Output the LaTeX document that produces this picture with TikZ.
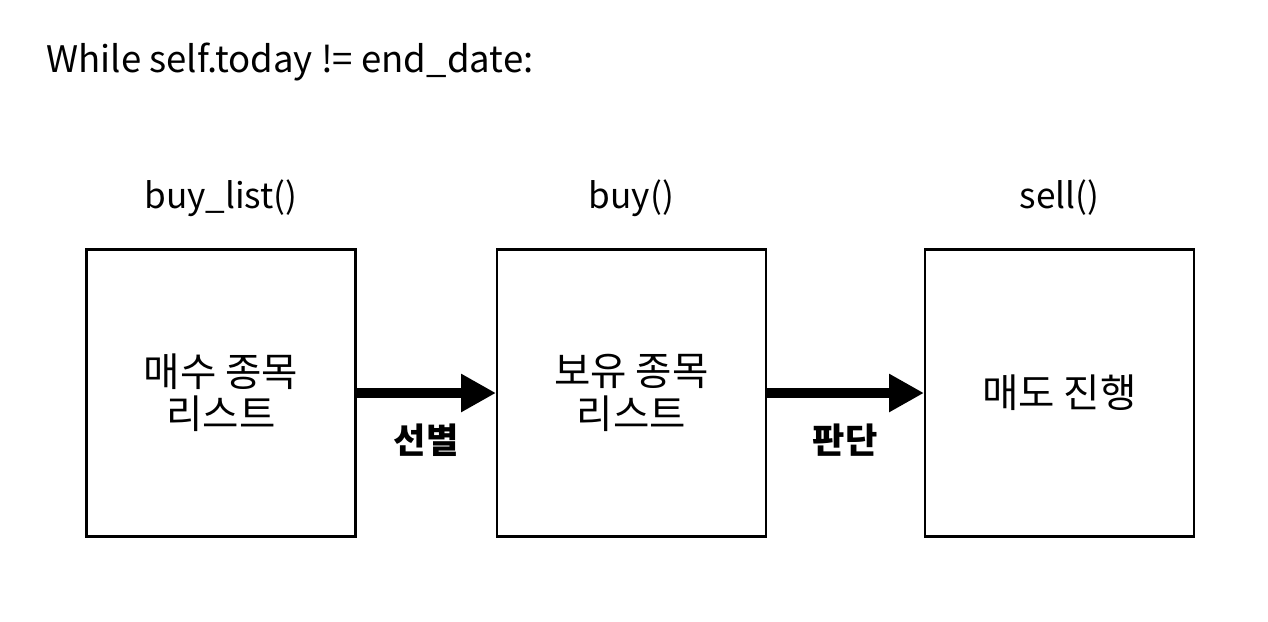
\documentclass[tikz,border=0pt]{standalone}
\usepackage{fontspec}
\setmainfont{Noto Sans CJK KR}
\usetikzlibrary{arrows.meta, positioning}

\tikzset{
  stagebox/.style={draw, line width=1.2pt, minimum width=5.38cm, minimum height=5.74cm,
                   align=center, font=\fontsize{22.5}{24}\selectfont},
  funclabel/.style={font=\fontsize{20}{23}\selectfont, inner sep=0pt},
  flowarrow/.style={-{Triangle[length=19.8pt, width=20.4pt]}, line width=6.2pt},
  steplabel/.style={font=\fontsize{20}{23}\selectfont\bfseries, inner sep=0pt}
}

\begin{document}
\begin{tikzpicture}[x=0.02cm, y=-0.02cm]
  \useasboundingbox (0,0) rectangle (1268,622);

  % loop header
  \node[funclabel, anchor=base west, font=\fontsize{20.8}{23}\selectfont] (loop) at (46,72) {While self.today != end\_date:};

  % three stages
  \node[stagebox] (buylist) at (221,393) {매수 종목\\리스트};
  \node[stagebox] (buy) at (631.5,393) {보유 종목\\리스트};
  \node[stagebox] (sell) at (1059.5,393) {매도 진행};

  % function names
  \node[funclabel] (fbuylist) at (221,198) {buy\_list()};
  \node[funclabel] (fbuy) at (631.5,198) {buy()};
  \node[funclabel] (fsell) at (1059.5,198) {sell()};

  % flow
  \draw[flowarrow] (buylist.east) -- (buy.west);
  \draw[flowarrow] (buy.east) -- (sell.west);

  \node[steplabel] (select) at (426,440) {선별};
  \node[steplabel] (judge) at (845,440) {판단};
\end{tikzpicture}
\end{document}
